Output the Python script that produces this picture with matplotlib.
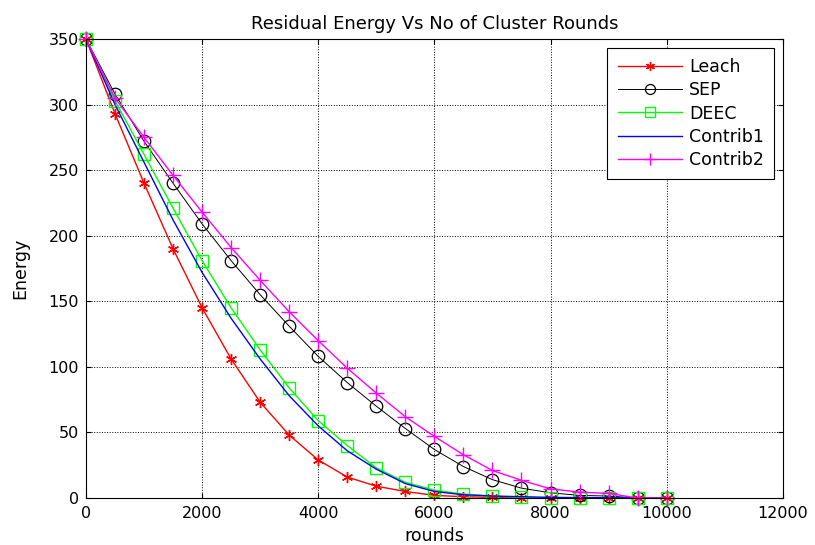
import matplotlib.pyplot as plt
import numpy as np

plt.rcParams['font.family'] = ['DejaVu Sans']

rounds = np.arange(0, 10001, 500)
leach = [350, 293, 240, 190, 145, 106, 73, 48, 29, 16, 9, 5, 2, 1, 0.5, 0, 0, 0, 0, 0, 0]
sep = [350, 308, 272, 240, 209, 181, 155, 131, 108, 88, 70, 53, 37, 24, 14, 7.5, 4, 2, 1.5, 0, 0]
deec = [350, 303, 262, 221, 181, 145, 113, 84, 59, 40, 23, 12, 6, 3, 1.5, 0.5, 0, 0, 0, 0, 0]
contrib1 = [350, 300, 256, 212, 172, 137, 106, 78, 55, 36, 22, 11, 5, 2.5, 1.5, 1, 0.5, 0.3, 0.2, 0, 0]
contrib2 = [350, 305, 275, 246, 218, 191, 166, 142, 120, 99, 80, 62, 47, 33, 21, 13.5, 7, 4.5, 3.5, 0, 0]

fig = plt.figure(figsize=(8.15, 5.45), dpi=100)
ax = fig.add_axes([0.1055, 0.0862, 0.855, 0.8422])

ax.plot(rounds, leach, color='red', lw=1, marker=(6, 2, 0), ms=8, mew=1, label='Leach', clip_on=False)
ax.plot(rounds, sep, color='black', lw=0.7, marker='o', ms=9, mfc='none', mew=0.9, label='SEP', clip_on=False)
ax.plot(rounds, deec, color=(0, 1, 0), lw=1, marker='s', ms=9, mfc='none', mew=1, label='DEEC', clip_on=False)
ax.plot(rounds, contrib1, color='blue', lw=1, label='Contrib1', clip_on=False)
ax.plot(rounds, contrib2, color='magenta', lw=1, marker='+', ms=11, mew=1, label='Contrib2', clip_on=False)

ax.set_xlim(0, 12000)
ax.set_ylim(0, 350)
ax.set_xticks(np.arange(0, 12001, 2000))
ax.set_yticks(np.arange(0, 351, 50))
ax.tick_params(direction='in', labelsize=11.5, length=3.5, top=True, right=True)
ax.tick_params(axis='x', pad=6)
ax.tick_params(axis='y', pad=5)
ax.grid(True, color='black', linestyle=':', lw=0.7)

ax.set_title('Residual Energy Vs No of Cluster Rounds', fontsize=13, pad=7)
ax.set_xlabel('rounds', fontsize=12.5, labelpad=4)
ax.set_ylabel('Energy', fontsize=12.5, labelpad=14)

leg = ax.legend(loc='upper right', fontsize=12.5, handlelength=3.7, handletextpad=0.4,
                fancybox=False, edgecolor='black', framealpha=1, borderaxespad=0.5,
                labelspacing=0.3, borderpad=0.6, markerscale=0.8)
leg.get_frame().set_linewidth(0.8)

fig.savefig('out.png', dpi=100)
